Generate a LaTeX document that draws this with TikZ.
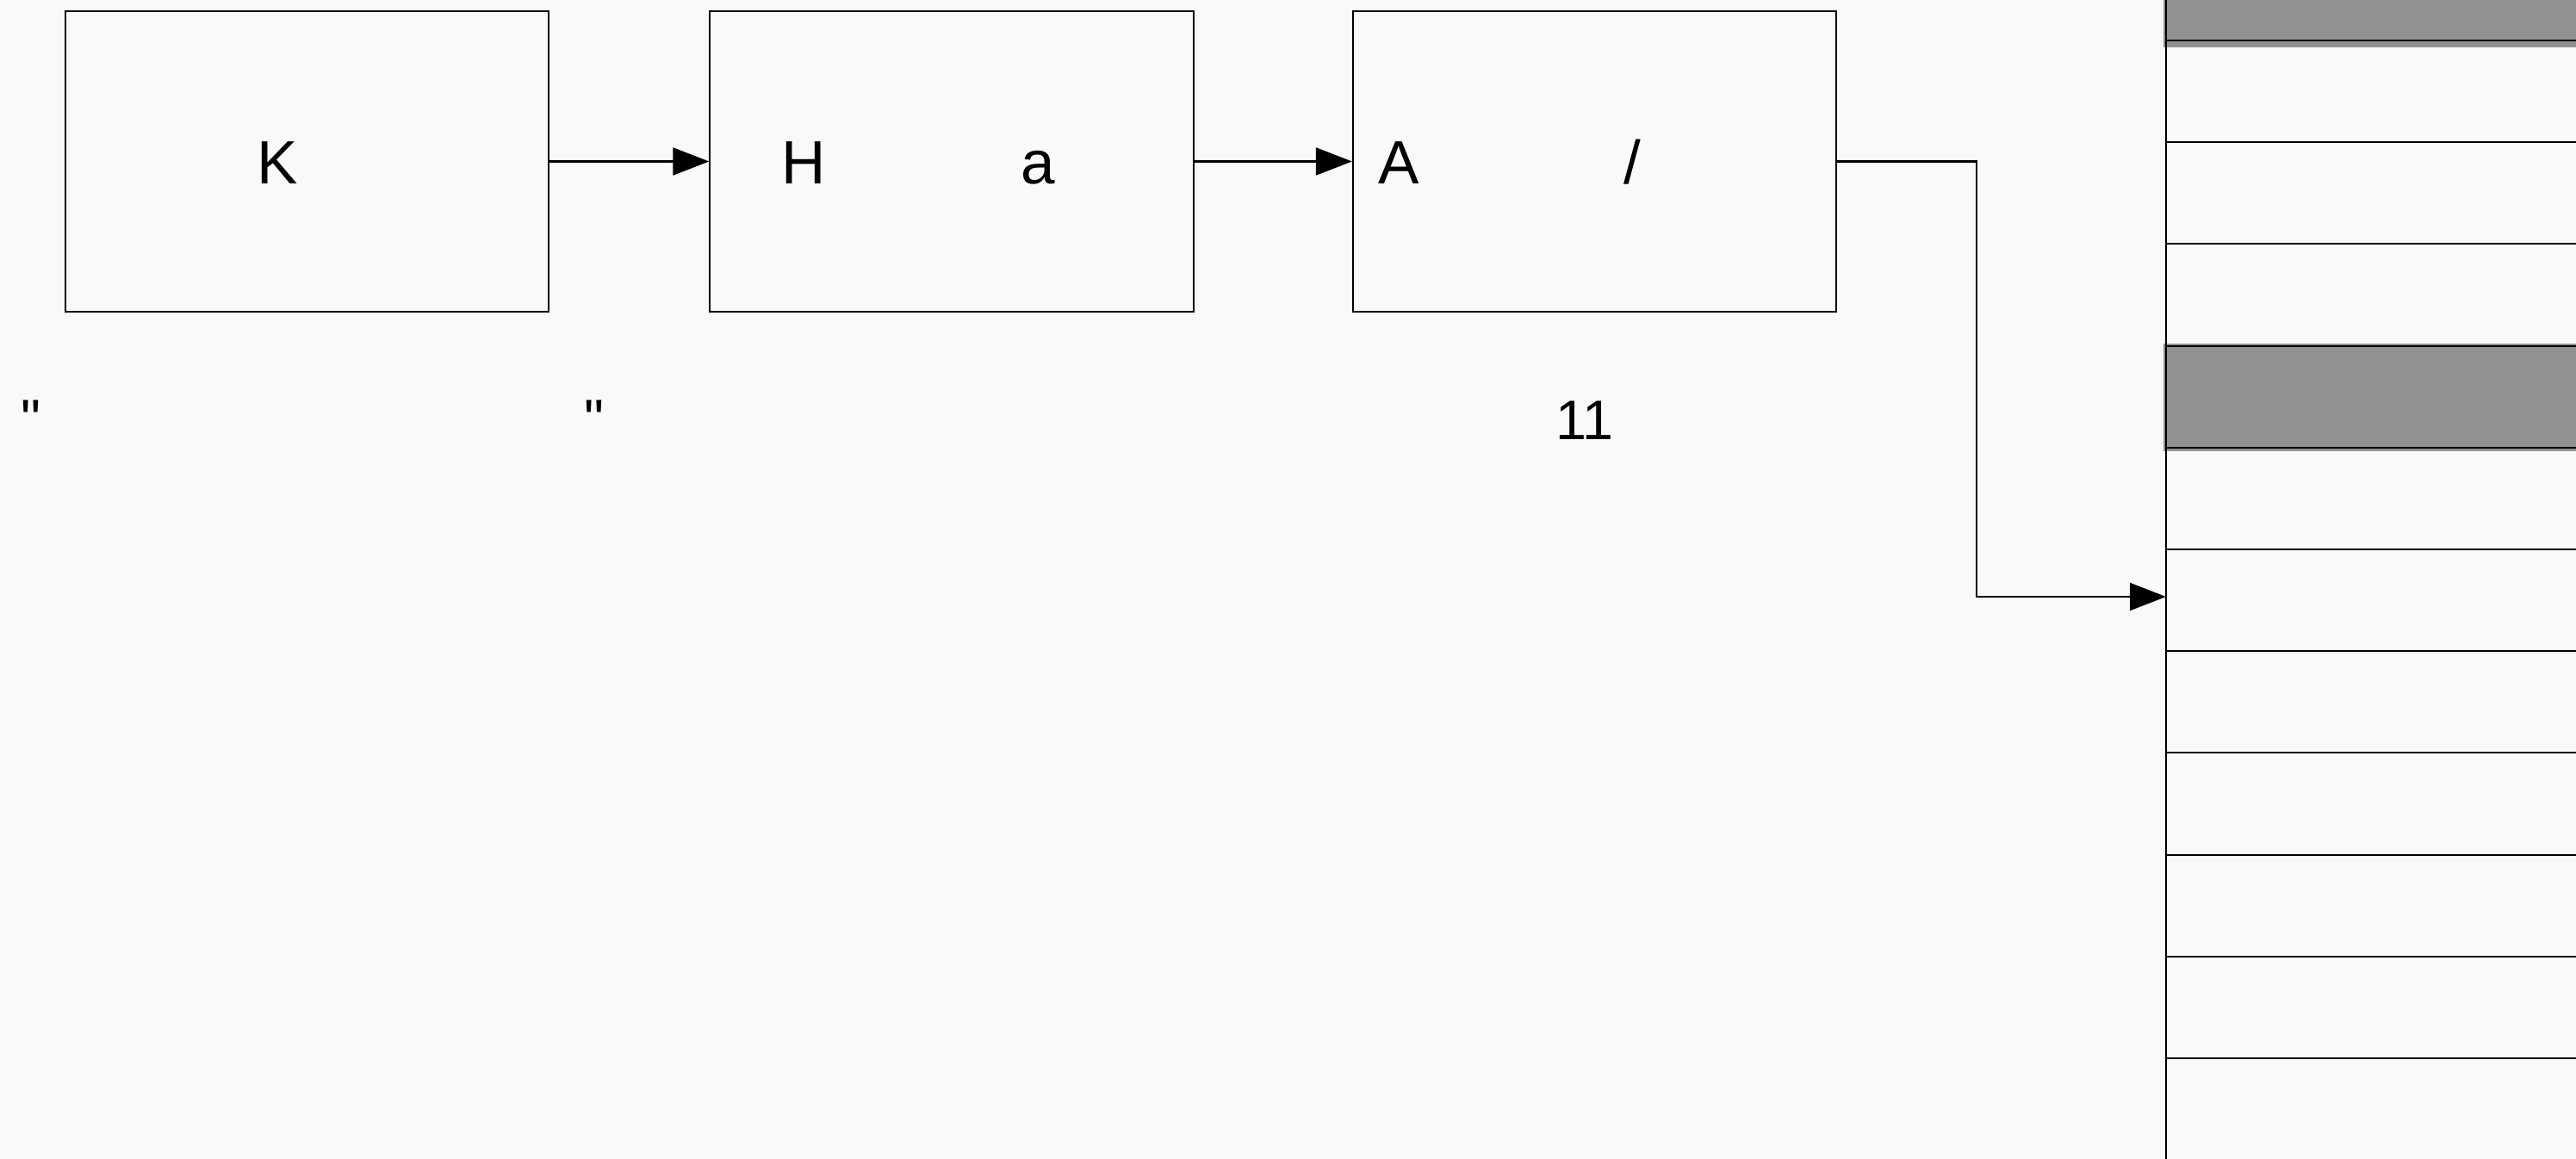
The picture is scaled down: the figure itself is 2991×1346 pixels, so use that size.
\documentclass[tikz,border=0pt]{standalone}
\usepackage{fontspec}
\setmainfont{Liberation Sans}
\newfontfamily\plainsans{Liberation Sans}
\usetikzlibrary{positioning, arrows.meta}

\definecolor{paper}{RGB}{248,250,249}
\definecolor{slotgray}{RGB}{145,145,145}

\tikzset{
  stage/.style={draw, line width=0.6pt, minimum width=5.61cm, minimum height=3.49cm, inner sep=0pt},
  lbl/.style={anchor=base, inner sep=0pt, font=\fontsize{20.2}{24}\selectfont},
  note/.style={anchor=base, inner sep=0pt, font=\plainsans\fontsize{18.4}{22}\selectfont},
  conn/.style={line width=0.6pt, -{Triangle[length=0.42cm, width=0.32cm]}}
}

\begin{document}
\begin{tikzpicture}
	[x=0.01cm, y=-0.01cm, node distance=1.85cm]
   \fill[paper] (0,0) rectangle (2991,1346);
   \useasboundingbox (0,0) rectangle (2991,1346);

   % memory column on the right
   \fill[slotgray] (2512,0) rectangle (2991,55);
   \fill[slotgray] (2512,399) rectangle (2991,524);
   \draw[line width=0.6pt] (2515,0) -- (2515,1346);
   \foreach \k in {0,...,10}
     \draw[line width=0.6pt] (2515,{47+118.2*\k}) -- (2991,{47+118.2*\k});
   \coordinate (slot) at (2515,693);

   % the three stages
   \node[stage] (K) at (356.5,187.5) {};
   \node[stage] (H) [right=of K] {};
   \node[stage] (A) [right=1.83cm of H] {};

   \node[lbl] (kK) at (322,214) {K};
   \node[lbl] (hH) at (933,214) {H};
   \node[lbl] (ha) at (1205,214) {a};
   \node[lbl] (aA) at (1624,214) {A};
   \node[lbl] (as) at (1895,214) {/};

   \node[note] (q1) at (36,509) {"};
   \node[note] (q2) at (690,509) {"};
   \node[note] (n11) at (1840,510) {11};

   \draw[conn] (K) -- (H);
   \draw[conn] (H) -- (A);
   \draw[conn] (A.east) -- ++(162,0) |- (slot);
\end{tikzpicture}
\end{document}
